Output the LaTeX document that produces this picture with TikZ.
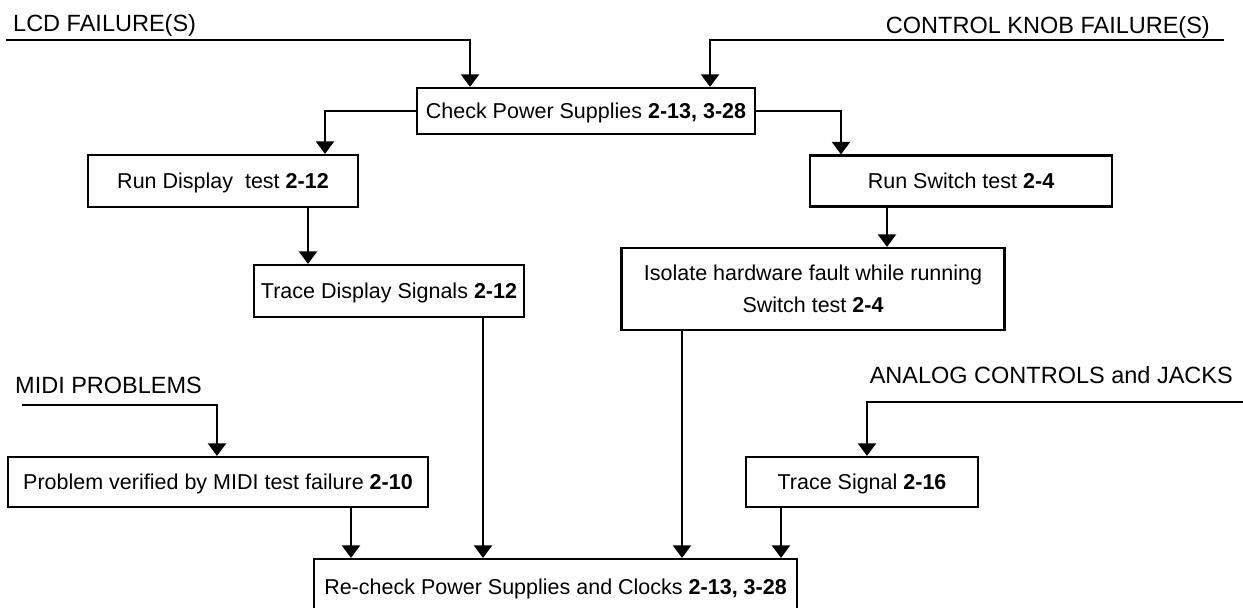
\documentclass[tikz,border=0pt]{standalone}
\usepackage{fontspec}
\setmainfont{Liberation Sans}
\usetikzlibrary{arrows.meta}
\newcommand{\boxfont}{\fontsize{21.5}{32}\selectfont}
\newcommand{\labfont}{\fontsize{23.5}{28}\selectfont}
\tikzset{
  flow/.style={-{Triangle[length=12.5pt,width=18pt]},line width=2.2pt},
  stepbox/.style={draw=black,line width=2.2pt,inner sep=0pt,align=center,font=\boxfont},
  oneline/.style={stepbox,text height=15.5pt,text depth=0pt},
  lab/.style={inner sep=0pt,font=\labfont},
}

\begin{document}
\begin{tikzpicture}[x=1pt,y=-1pt]
  \path[use as bounding box,clip] (0,0) rectangle (1243,608);

  \node[oneline,minimum width=338pt,minimum height=46pt] (check) at (586,111)
    {Check Power Supplies \textbf{2-13, 3-28}};
  \node[oneline,minimum width=270pt,minimum height=52pt] (rundisp) at (223,181)
    {Run Display\ \ test \textbf{2-12}};
  \node[oneline,minimum width=302pt,minimum height=51pt] (runsw) at (961,181)
    {Run Switch test \textbf{2-4}};
  \node[oneline,minimum width=270pt,minimum height=52pt] (tracedisp) at (389,291)
    {Trace Display Signals \textbf{2-12}};
  \node[stepbox,minimum width=383pt,minimum height=82pt] (isolate) at (813,289)
    {Isolate hardware fault while running\\Switch test \textbf{2-4}};
  \node[oneline,minimum width=420pt,minimum height=50pt] (midibox) at (218,482)
    {Problem verified by MIDI test failure \textbf{2-10}};
  \node[oneline,minimum width=232pt,minimum height=50pt] (tracesig) at (862,482)
    {Trace Signal \textbf{2-16}};
  \node[oneline,minimum width=483pt,minimum height=56pt] (recheck) at (555.5,587)
    {Re-check Power Supplies and Clocks \textbf{2-13, 3-28}};

  \node[lab,anchor=base west] (lcd) at (13,31.4) {LCD FAILURE(S)};
  \node[lab,anchor=base east] (knob) at (1210,33.4) {CONTROL KNOB FAILURE(S)};
  \node[lab,anchor=base west] (midi) at (15,393.4) {MIDI PROBLEMS};
  \node[lab,anchor=base east] (analog) at (1233,383.4) {ANALOG CONTROLS and JACKS};

  % lines coming in from the fault headings
  \coordinate (lcdtail) at (6,40);
  \coordinate (knobtail) at (1224,40);
  \coordinate (miditail) at (22,405);
  \coordinate (analogtail) at (1243,402);

  % x positions of the vertical runs
  \coordinate (lcdin) at (470,0);
  \coordinate (knobin) at (710,0);
  \coordinate (dispin) at (325,0);
  \coordinate (swin) at (841,0);
  \coordinate (dispout) at (308,0);
  \coordinate (swout) at (887,0);
  \coordinate (traceout) at (483,0);
  \coordinate (isoout) at (682,0);
  \coordinate (midiin) at (217,0);
  \coordinate (midiout) at (351,0);
  \coordinate (analogin) at (867,0);
  \coordinate (sigout) at (781,0);

  \draw[flow] (lcdtail) -| (check.north -| lcdin);
  \draw[flow] (knobtail) -| (check.north -| knobin);
  \draw[flow] (check.west) -| (rundisp.north -| dispin);
  \draw[flow] (check.east) -| (runsw.north -| swin);
  \draw[flow] (rundisp.south -| dispout) -- (tracedisp.north -| dispout);
  \draw[flow] (runsw.south -| swout) -- (isolate.north -| swout);
  \draw[flow] (tracedisp.south -| traceout) -- (recheck.north -| traceout);
  \draw[flow] (isolate.south -| isoout) -- (recheck.north -| isoout);
  \draw[flow] (miditail) -| (midibox.north -| midiin);
  \draw[flow] (analogtail) -| (tracesig.north -| analogin);
  \draw[flow] (midibox.south -| midiout) -- (recheck.north -| midiout);
  \draw[flow] (tracesig.south -| sigout) -- (recheck.north -| sigout);
\end{tikzpicture}
\end{document}
